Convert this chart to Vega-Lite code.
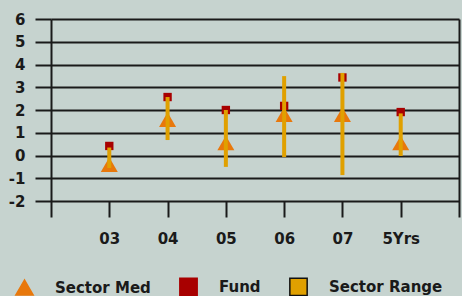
{
  "$schema": "https://vega.github.io/schema/vega-lite/v6.json",
  "autosize": "none",
  "width": 408,
  "height": 198,
  "padding": {"left": 51, "top": 19, "right": 3, "bottom": 79},
  "background": "#c6d3cf",
  "config": {
    "view": {"stroke": null},
    "font": "DejaVu Sans",
    "axis": {"labelFont": "DejaVu Sans", "labelFontWeight": "bold", "labelFontSize": 15, "labelColor": "#1a1a1a", "title": null}
  },
  "data": {
    "values": [
      {"period": "03", "med": -0.4, "fund": 0.42, "lo": -0.55, "hi": 0.35},
      {"period": "04", "med": 1.58, "fund": 2.57, "lo": 0.68, "hi": 2.57},
      {"period": "05", "med": 0.55, "fund": 2.0, "lo": -0.5, "hi": 2.0},
      {"period": "06", "med": 1.8, "fund": 2.18, "lo": -0.07, "hi": 3.49},
      {"period": "07", "med": 1.8, "fund": 3.43, "lo": -0.86, "hi": 3.63},
      {"period": "5Yrs", "med": 0.55, "fund": 1.91, "lo": -0.02, "hi": 1.85}
    ]
  },
  "encoding": {
    "x": {
      "field": "period", "type": "ordinal", "sort": null,
      "scale": {"type": "point", "padding": 1},
      "axis": {"orient": "bottom", "offset": -16, "domain": false, "grid": false, "tickSize": 16, "tickWidth": 2, "tickColor": "#1a1a1a", "labelAngle": 0, "labelPadding": 14, "labelBaseline": "top"}
    }
  },
  "layer": [
    {
      "mark": {"type": "point", "filled": true, "opacity": 1, "size": 70, "strokeWidth": 0},
      "encoding": {
        "y": {
          "field": "fund", "type": "quantitative",
          "scale": {"domain": [-2.703, 6], "nice": false, "zero": false},
          "axis": {"orient": "left", "grid": true, "gridColor": "#1a1a1a", "gridWidth": 2, "values": [-2, -1, 0, 1, 2, 3, 4, 5, 6], "labelExpr": "'' + datum.value", "tickSize": 16, "tickWidth": 2, "tickColor": "#1a1a1a", "domain": true, "domainColor": "#1a1a1a", "domainWidth": 2, "labelPadding": 10}
        },
        "color": {"datum": "Fund", "scale": {"domain": ["Sector Med", "Fund", "Sector Range"], "range": ["#e8780c", "#a80000", "#e0a000"]},
          "legend": {"orient": "none", "legendX": -36, "legendY": 258, "direction": "horizontal", "title": null, "symbolSize": 300, "labelFont": "DejaVu Sans", "labelFontWeight": "bold", "labelFontSize": 15, "labelColor": "#1a1a1a", "labelOffset": 21, "columnPadding": 25, "padding": 0, "symbolStrokeWidth": 1.5}},
        "shape": {"datum": "Fund", "scale": {"domain": ["Sector Med", "Fund", "Sector Range"], "range": ["triangle-up", "square", "square"]}},
        "stroke": {"datum": "Fund", "scale": {"domain": ["Sector Med", "Fund", "Sector Range"], "range": ["#e8780c", "#a80000", "#111111"]}}
      }
    },
    {
      "mark": {"type": "point", "filled": true, "opacity": 1, "size": 289, "strokeWidth": 0},
      "encoding": {
        "y": {"field": "med", "type": "quantitative", "axis": null},
        "color": {"datum": "Sector Med"},
        "shape": {"datum": "Sector Med"},
        "stroke": {"datum": "Sector Med"}
      }
    },
    {
      "mark": {"type": "bar", "size": 4, "strokeWidth": 0},
      "encoding": {
        "y": {"field": "lo", "type": "quantitative", "axis": null},
        "y2": {"field": "hi"},
        "color": {"datum": "Sector Range"},
        "stroke": {"datum": "Sector Range"}
      }
    },
    {
      "mark": {"type": "rule", "opacity": 0},
      "encoding": {
        "y": {"field": "hi", "type": "quantitative", "axis": {"orient": "right", "labels": false, "ticks": false, "grid": false, "domain": true, "domainColor": "#1a1a1a", "domainWidth": 2}}
      }
    }
  ],
  "resolve": {"axis": {"y": "independent"}}
}
